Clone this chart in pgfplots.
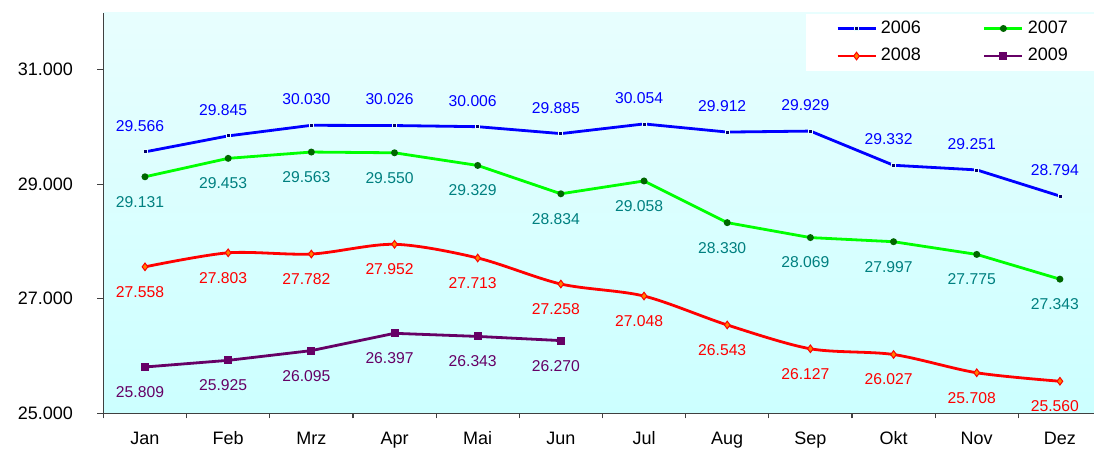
\documentclass[border=0pt]{standalone}
\usepackage{pgfplots}
\pgfplotsset{compat=1.18}
\usepackage{fontspec}
\setmainfont{Liberation Sans}
\usetikzlibrary{calc}
\definecolor{cblue}{RGB}{0,0,255}
\definecolor{cgreen}{RGB}{0,255,0}
\definecolor{cred}{RGB}{255,0,0}
\definecolor{cpurple}{RGB}{102,0,102}
\definecolor{cteal}{RGB}{0,128,128}
\definecolor{bgtop}{RGB}{232,254,254}
\definecolor{bgbot}{RGB}{204,255,255}
\begin{document}
\begin{tikzpicture}
\begin{axis}[
  scale only axis,
  width=495.3pt, height=200.4pt,
  xmin=0.5, xmax=12.41,
  ymin=25000, ymax=32000,
  scaled y ticks=false,
  axis x line=bottom, axis y line=left,
  axis line style={-, black!75, line width=0.6pt},
  axis background/.style={top color=bgtop, bottom color=bgbot},
  tick align=outside,
  xtick={1,...,12},
  xticklabels={Jan,Feb,Mrz,Apr,Mai,Jun,Jul,Aug,Sep,Okt,Nov,Dez},
  major x tick style={draw=none},
  minor xtick={0.5,1.5,...,11.5},
  minor x tick style={black!75, line width=0.6pt},
  minor tick length=2.5pt,
  ytick={25000,27000,29000,31000},
  yticklabels={25.000,27.000,29.000,31.000},
  y tick style={black!75, line width=0.6pt},
  major tick length=3pt,
  xticklabel style={font=\fontsize{9}{10}\selectfont, inner sep=0pt, anchor=north, yshift=-6pt},
  yticklabel style={font=\fontsize{9}{10}\selectfont, inner sep=0pt, anchor=east, xshift=-12pt},
  legend columns=2,
  legend style={at={(0.709,0.998)}, anchor=north west, draw=none, fill=white,
    font=\fontsize{9}{10}\selectfont, inner xsep=15pt, inner ysep=1.5pt, row sep=2pt,
    /tikz/every even column/.append style={column sep=29pt}},
  legend image code/.code={\draw[mark repeat=2, mark phase=2] plot coordinates {(0pt,0pt)(9.5pt,0pt)(19pt,0pt)};},
  nodes near coords={\pgfmathprintnumber[fixed, precision=0, 1000 sep={.}, assume math mode=true]{\pgfplotspointmeta}},
  every node near coord/.append style={font=\fontsize{7.85}{9}\selectfont, inner sep=0pt, anchor=center},
]
\addplot[cblue, line width=1.4pt, mark=square*, mark size=1pt,
  mark options={fill=blue!40!black, draw=bgtop, line width=0.4pt},
  every node near coord/.append style={text=cblue, yshift=13pt, xshift=-2.5pt}]
  coordinates {(1,29566)(2,29845)(3,30030)(4,30026)(5,30006)(6,29885)(7,30054)(8,29912)(9,29929)(10,29332)(11,29251)(12,28794)};
\addlegendentry{2006}
\addplot[cgreen, line width=1.4pt, mark=*, mark size=1pt,
  mark options={fill=green!40!black, draw=green!40!black},
  every node near coord/.append style={text=cteal, yshift=-12.5pt, xshift=-2.5pt}]
  coordinates {(1,29131)(2,29453)(3,29563)(4,29550)(5,29329)(6,28834)(7,29058)(8,28330)(9,28069)(10,27997)(11,27775)(12,27343)};
\addlegendentry{2007}
\addplot[cred, line width=1.4pt, smooth, mark=diamond*, mark size=1.9pt,
  mark options={fill=orange, draw=cred, line width=0.5pt},
  every node near coord/.append style={text=cred, yshift=-12.5pt, xshift=-2.5pt}]
  coordinates {(1,27558)(2,27803)(3,27782)(4,27952)(5,27713)(6,27258)(7,27048)(8,26543)(9,26127)(10,26027)(11,25708)(12,25560)};
\addlegendentry{2008}
\addplot[cpurple, line width=1.4pt, mark=square*, mark size=1.3pt,
  mark options={fill=cpurple, draw=cpurple},
  every node near coord/.append style={text=cpurple, yshift=-12.5pt, xshift=-2.5pt}]
  coordinates {(1,25809)(2,25925)(3,26095)(4,26397)(5,26343)(6,26270)};
\addlegendentry{2009}
\coordinate (bl) at (rel axis cs:0,0);
\coordinate (tr) at (rel axis cs:1,1);
\end{axis}
\pgfresetboundingbox
\path ($(bl)+(-51.7pt,-19.35pt)$) rectangle ($(tr)+(0,6.25pt)$);
\end{tikzpicture}
\end{document}
